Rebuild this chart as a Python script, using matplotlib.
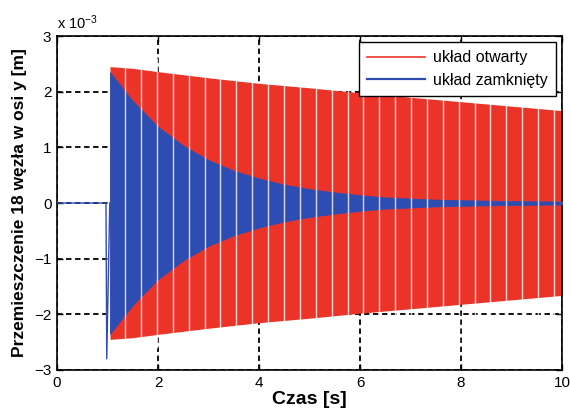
import numpy as np
import matplotlib
matplotlib.use("Agg")
import matplotlib.pyplot as plt
from matplotlib.lines import Line2D

plt.rcParams['font.family'] = ['Liberation Sans', 'DejaVu Sans']
plt.rcParams['mathtext.default'] = 'regular'

# ---- data (displacement in units of 1e-3 m) ----
# open system: envelope of oscillation amplitude
open_t = [1.05, 1.5, 2.0, 3.0, 4.0, 5.0, 6.0, 7.0, 8.0, 9.0, 10.0]
open_amp = [2.45, 2.42, 2.36, 2.25, 2.15, 2.07, 1.98, 1.90, 1.82, 1.74, 1.66]

# closed system: envelope of oscillation amplitude
closed_t = [1.05, 1.5, 2.0, 2.5, 3.0, 3.5, 4.0, 4.5, 5.0, 5.5, 6.0, 6.5, 7.0, 7.5, 8.0, 9.0, 10.0]
closed_amp = [2.35, 1.83, 1.37, 1.03, 0.77, 0.58, 0.44, 0.33, 0.25, 0.19, 0.14, 0.10,
              0.08, 0.06, 0.05, 0.035, 0.025]

# closed system: rest and initial impulse before oscillation
pre_t = [0.0, 0.97, 0.985, 1.045]
pre_y = [0.0, 0.0, -2.80, 0.0]

# aliasing gaps visible in the rendered oscillation
gap_start, gap_step = 1.35, 0.3145

labels = ['układ otwarty', 'układ zamknięty']
red = '#EC3328'
blue = '#2E4DB3'

fig = plt.figure(figsize=(5.70, 4.19), dpi=100)
ax = fig.add_axes([0.100, 0.117, 0.886, 0.797])

open_t_a = np.array(open_t)
open_amp_a = np.array(open_amp)
closed_t_a = np.array(closed_t)
closed_amp_a = np.array(closed_amp)

ax.fill_between(open_t_a, -open_amp_a, open_amp_a, color=red, lw=0, zorder=2)
ax.fill_between(closed_t_a, -closed_amp_a, closed_amp_a, color=blue, lw=0.6,
                edgecolor=blue, zorder=3)
ax.plot(pre_t, pre_y, color=blue, lw=1.0, zorder=3)

gaps = np.arange(gap_start, 10.0, gap_step)
ax.vlines(gaps, -2.6, 2.6, color='white', lw=1.0, alpha=0.8, zorder=4)

ax.set_xlim(0, 10)
ax.set_ylim(-3, 3)
ax.set_xticks([0, 2, 4, 6, 8, 10])
ax.set_yticks([-3, -2, -1, 0, 1, 2, 3])
ax.tick_params(direction='in', top=True, right=True, labelsize=11, length=4,
               width=1.0, pad=4)
ax.grid(True, color='black', linestyle=(0, (3, 2)), linewidth=1.3, zorder=1)
ax.set_axisbelow(True)
for s in ax.spines.values():
    s.set_linewidth(1.2)

ax.text(0.0, 1.012, 'x 10$^{-3}$', transform=ax.transAxes, ha='left', va='bottom',
        fontsize=10.5)

ax.set_xlabel('Czas [s]', fontsize=14, fontweight='bold', labelpad=1)
ax.set_ylabel('Przemieszczenie 18 węzła w osi y [m]', fontsize=12.5,
              fontweight='bold', labelpad=5)

handles = [Line2D([], [], color=red, lw=1.2), Line2D([], [], color=blue, lw=1.6)]
leg = ax.legend(handles, labels, loc='upper right', fontsize=11.5,
                fancybox=False, framealpha=1, edgecolor='black',
                borderaxespad=0.4, handlelength=3.6, borderpad=0.5,
                labelspacing=0.45, handletextpad=0.5)
leg.get_frame().set_linewidth(1.0)
leg.set_zorder(10)

fig.savefig('out.png', dpi=100)
